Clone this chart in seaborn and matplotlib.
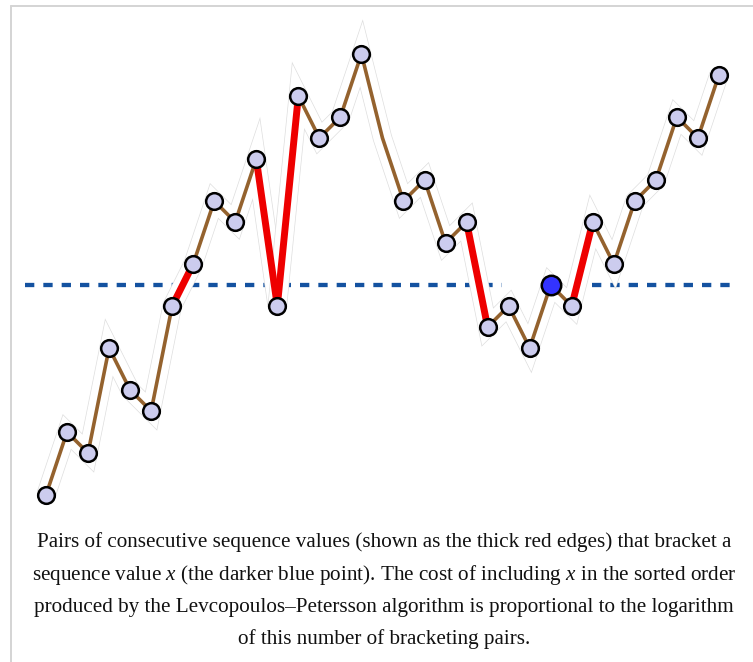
import numpy as np
import pandas as pd
import seaborn as sns
import matplotlib.pyplot as plt
import matplotlib.patheffects as pe
from matplotlib.lines import Line2D

# sequence values (grid levels)
values = [0, 3, 2, 7, 5, 4, 9, 11, 14, 13, 16, 9, 19, 17, 18, 21, 17,
          14, 15, 12, 13, 8, 9, 7, 10, 9, 13, 11, 14, 15, 18, 17, 20]
query_index = 24          # the darker blue point
hidden_markers = [16]     # a kink in the line with no circle drawn
halo_breaks = [11]        # very sharp vertex: halo is cut there, not mitred

caption_lines = [
    r"Pairs of consecutive sequence values (shown as the thick red edges) that bracket a",
    r"sequence value $x$ (the darker blue point). The cost of including $x$ in the sorted order",
    r"produced by the Levcopoulos–Petersson algorithm is proportional to the logarithm",
    r"of this number of bracketing pairs.",
]

sns.set_style("white")
plt.rcParams["lines.scale_dashes"] = False
plt.rcParams["mathtext.fontset"] = "custom"
plt.rcParams["mathtext.rm"] = "Liberation Serif"
plt.rcParams["mathtext.it"] = "Liberation Serif:italic"

df = pd.DataFrame({"i": np.arange(len(values)), "v": values})
xval = values[query_index]

fig = plt.figure(figsize=(7.53, 6.62), dpi=100)
ax = fig.add_axes([0, 0, 1, 1])
ax.set_xlim(-2.187, 33.62)
ax.set_ylim(-7.952, 23.571)
ax.axis("off")

# dashed threshold line at the query value (broken around the query point)
for x0, x1 in [(-1.0, 21.7), (25.95, 32.6)]:
    ax.plot([x0, x1], [xval, xval], color="#1452a0", lw=3.1,
            dashes=(6.7, 6.5), dash_capstyle="butt", zorder=1)

# white halo with a faint grey outline around the polyline
cuts = [0] + halo_breaks + [len(values) - 1]
for a, b in zip(cuts[:-1], cuts[1:]):
    part = df.iloc[a:b + 1]
    ax.plot(part["i"], part["v"], color="white", lw=13, solid_joinstyle="miter",
            solid_capstyle="butt", zorder=2,
            path_effects=[pe.Stroke(linewidth=14, foreground="#dedede"), pe.Normal()])

# brown polyline
sns.lineplot(data=df, x="i", y="v", sort=False, estimator=None, color="#94622e",
             lw=2.6, ax=ax, zorder=3)

# thick red edges: consecutive pairs that bracket the query value
for a in range(len(values) - 1):
    lo, hi = sorted((values[a], values[a + 1]))
    if lo < xval < hi:
        ax.plot([a, a + 1], [values[a], values[a + 1]], color="#ee0000", lw=5,
                solid_capstyle="butt", zorder=4)

# markers
normal = df[(df["i"] != query_index) & (~df["i"].isin(hidden_markers))]
sns.scatterplot(data=normal, x="i", y="v", s=12 ** 2, color="#ccccee",
                edgecolor="black", linewidth=1.8, ax=ax, zorder=5, legend=False)
sns.scatterplot(data=df[df["i"] == query_index], x="i", y="v", s=14 ** 2,
                color="#3333ff", edgecolor="black", linewidth=1.8, ax=ax, zorder=6,
                legend=False)
ax.set_xlabel("")
ax.set_ylabel("")

# frame lines (top and left)
fig.add_artist(Line2D([11 / 753, 1], [1 - 5.5 / 662, 1 - 5.5 / 662],
                      transform=fig.transFigure, color="#d4d4d4", lw=1.4))
fig.add_artist(Line2D([11 / 753, 11 / 753], [0, 1 - 5.5 / 662],
                      transform=fig.transFigure, color="#d4d4d4", lw=1.4))

# caption
baselines = [547, 580, 612, 644]
for line, yb in zip(caption_lines, baselines):
    fig.text(384 / 753, 1 - yb / 662, line, ha="center", va="baseline",
             family="Liberation Serif", fontsize=15.2, color="#111111")

fig.savefig("out.png", dpi=100)
